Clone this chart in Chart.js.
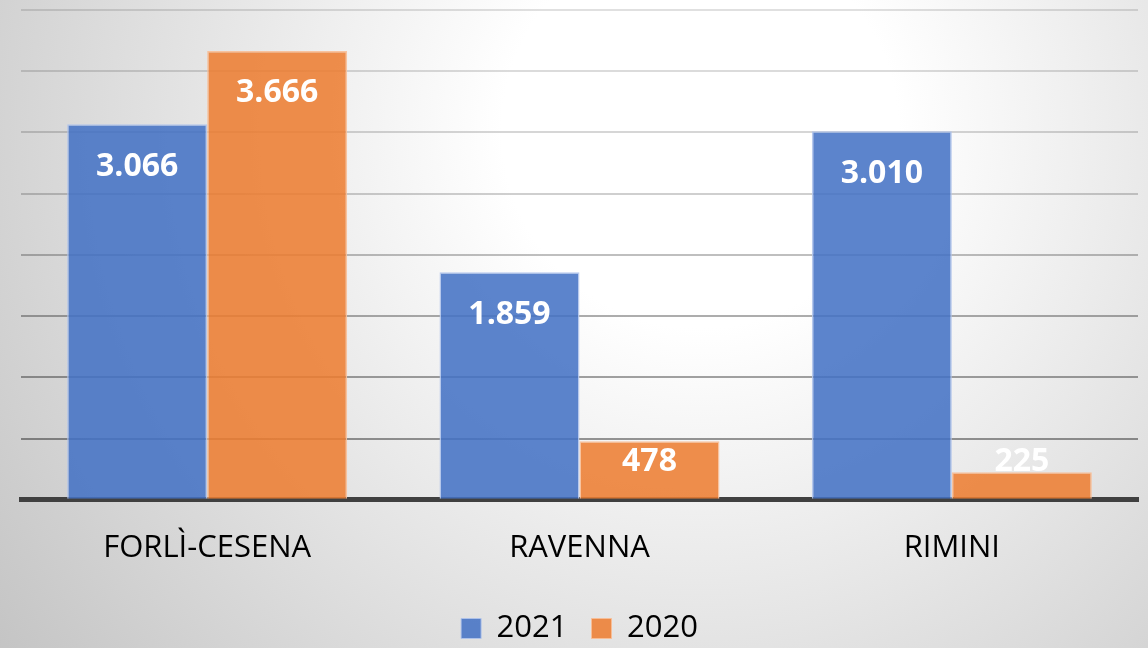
<!DOCTYPE html>
<html>
<head>
<meta charset="utf-8">
<script src="https://cdn.jsdelivr.net/npm/chart.js@4.4.0/dist/chart.umd.min.js"></script>
<style>
  html, body { margin: 0; padding: 0; background: #ffffff; }
  #wrap { width: 1148px; height: 648px; position: relative; }
</style>
</head>
<body>
<div id="wrap"><canvas id="c" width="1148" height="648"></canvas></div>
<script>
const categories = ['FORLÌ-CESENA', 'RAVENNA', 'RIMINI'];
const series2021 = [3066, 1859, 3010];
const series2020 = [3666, 478, 225];
const seriesNames = ['2021', '2020'];
const valueLabels2021 = ['3.066', '1.859', '3.010'];
const valueLabels2020 = ['3.666', '478', '225'];

const gridAlpha = [0, 0.40, 0.36, 0.32, 0.25, 0.19, 0.16, 0.14, 0.12];

const bgPlugin = {
  id: 'bg',
  beforeDraw(chart) {
    const ctx = chart.ctx;
    const g = ctx.createRadialGradient(700, 130, 0, 700, 130, 900);
    g.addColorStop(0, '#ffffff');
    g.addColorStop(0.22, '#ffffff');
    g.addColorStop(1, '#c2c2c2');
    ctx.save();
    ctx.fillStyle = g;
    ctx.fillRect(0, 0, chart.width, chart.height);
    ctx.restore();
  }
};

const labelPlugin = {
  id: 'vlabels',
  afterDatasetsDraw(chart) {
    const ctx = chart.ctx;
    const base = chart.scales.y.getPixelForValue(0);
    const labels = [valueLabels2021, valueLabels2020];
    ctx.save();
    ctx.font = 'bold 32px "Open Sans"';
    ctx.fillStyle = '#ffffff';
    ctx.textAlign = 'center';
    ctx.textBaseline = 'alphabetic';
    chart.data.datasets.forEach((ds, di) => {
      chart.getDatasetMeta(di).data.forEach((bar, i) => {
        const cy = Math.min(bar.y + 40, base - 40);
        ctx.fillText(labels[di][i], bar.x, cy + 11.5);
      });
    });
    ctx.restore();
  }
};

new Chart(document.getElementById('c'), {
  type: 'bar',
  data: {
    labels: categories,
    datasets: [
      {
        label: seriesNames[0],
        data: series2021,
        backgroundColor: 'rgba(68,114,196,0.87)',
        borderColor: 'rgba(175,195,235,0.9)',
        borderWidth: 1.5,
        categoryPercentage: 0.752,
        barPercentage: 1.0
      },
      {
        label: seriesNames[1],
        data: series2020,
        backgroundColor: 'rgba(237,125,49,0.87)',
        borderColor: 'rgba(248,190,150,0.9)',
        borderWidth: 1.5,
        categoryPercentage: 0.752,
        barPercentage: 1.0
      }
    ]
  },
  options: {
    responsive: false,
    animation: false,
    devicePixelRatio: 1,
    layout: { padding: { left: 21, right: 10, top: 10, bottom: -6 } },
    plugins: {
      tooltip: { enabled: false },
      legend: {
        position: 'bottom',
        labels: {
          boxWidth: 20,
          boxHeight: 20,
          padding: 24,
          color: '#404040',
          font: { family: '"Open Sans"', size: 31 },
          generateLabels(chart) {
            return chart.data.datasets.map((ds, i) => ({
              text: ds.label,
              fillStyle: ds.backgroundColor,
              strokeStyle: ds.borderColor,
              lineWidth: 1,
              datasetIndex: i,
              hidden: false
            }));
          }
        }
      }
    },
    scales: {
      x: {
        grid: { display: false },
        border: { display: true, color: '#404040', width: 5 },
        ticks: {
          color: '#000000',
          padding: 22,
          font: { family: '"Open Sans"', size: 31 }
        }
      },
      y: {
        min: 0,
        max: 4000,
        ticks: { stepSize: 500, display: false },
        border: { display: false },
        grid: {
          drawTicks: false,
          lineWidth: 2,
          color: (ctx) => 'rgba(0,0,0,' + (gridAlpha[ctx.index] || 0) + ')'
        }
      }
    }
  },
  plugins: [bgPlugin, labelPlugin]
});
</script>
</body>
</html>
